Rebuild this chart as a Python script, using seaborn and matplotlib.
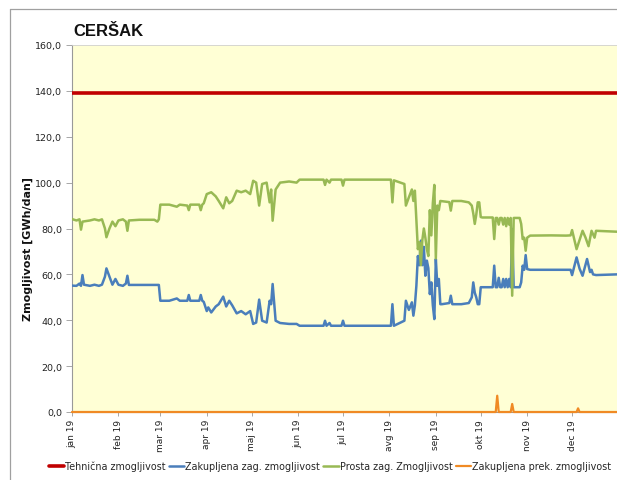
import numpy as np
import pandas as pd
import matplotlib
matplotlib.use("Agg")
import matplotlib.pyplot as plt
import matplotlib.dates as mdates
from matplotlib.ticker import MultipleLocator, FuncFormatter
from matplotlib.lines import Line2D
import seaborn as sns

# ---------------- data (day offset from 1 Jan 2019, value GWh/dan) ----------------
title = "CERŠAK"
ylabel = "Zmogljivost [GWh/dan]"
month_labels = ["jan 19", "feb 19", "mar 19", "apr 19", "maj 19", "jun 19",
                "jul 19", "avg 19", "sep 19", "okt 19", "nov 19", "dec 19"]
series_names = ["Tehnična zmogljivost", "Zakupljena zag. zmogljivost",
                "Prosta zag. Zmogljivost", "Zakupljena prek. zmogljivost"]

tech_days = [0, 364]
tech_vals = [139.0, 139.0]

blue_days = [0, 3, 5, 6, 7, 8, 12, 15, 18, 20, 22, 23, 25, 27, 29, 31, 34, 36, 37, 38,
             58, 59, 65, 70, 72, 77, 78, 79, 85, 86, 87, 88, 90, 91, 93, 96, 98, 101,
             103, 105, 107, 110, 113, 116, 119, 121, 123, 125, 127, 130, 132, 133, 134,
             136, 139, 145, 150, 152, 168, 169, 170, 172, 173, 180, 181, 182, 213, 214,
             215, 222, 223, 225, 227, 228, 229, 230, 231, 232, 233, 234, 235, 236, 237,
             238, 239, 240, 241, 242, 243, 244, 245, 246, 247, 252, 253, 254, 260, 265,
             267, 268, 269, 270, 271, 272, 273, 281, 282, 283, 284, 285, 286, 287, 288,
             289, 290, 291, 292, 293, 294, 295, 299, 300, 301, 302, 303, 304, 306, 333,
             334, 337, 339, 341, 344, 346, 347, 348, 350, 364]
blue_vals = [55.1, 55.0, 56.0, 55.0, 59.7, 55.5, 55.0, 55.5, 55.0, 55.5, 59.0, 62.6, 59.0,
             55.5, 58.0, 55.5, 55.0, 56.0, 59.4, 55.4,
             55.4, 48.5, 48.5, 49.5, 48.5, 48.5, 51.0, 48.5, 48.5, 51.0, 48.5, 48.0, 44.0,
             45.6, 43.4, 46.0, 47.0, 50.3,
             46.0, 48.5, 46.5, 43.0, 44.0, 42.6, 44.0, 38.4, 39.0, 49.0, 39.8, 39.0, 48.5,
             47.0, 55.8,
             39.8, 38.8, 38.4, 38.4, 37.6, 37.6, 39.8, 37.6, 38.8, 37.6, 37.6, 39.8, 37.6,
             37.6, 47.0,
             37.6, 39.8, 48.5, 44.5, 47.8, 42.0, 46.5, 55.0, 68.0, 64.0, 74.7, 64.0, 72.0,
             59.4, 66.0,
             62.7, 51.4, 56.5, 46.5, 40.5, 66.7, 55.0, 58.0, 47.0, 47.0, 47.5, 50.7, 47.0,
             47.0, 47.5,
             50.0, 56.5, 52.0, 50.0, 47.0, 47.0, 54.4, 54.4, 63.8, 54.4, 54.4, 58.5, 54.4,
             54.4, 58.0,
             54.4, 58.0, 54.4, 58.0, 54.4, 79.8, 54.4, 54.4, 56.5, 63.8, 62.0, 68.4, 62.3,
             62.0, 62.0,
             59.7, 67.4, 62.5, 59.4, 66.7, 61.0, 62.0, 60.0, 59.7, 60.0]

green_days = [0, 3, 5, 6, 7, 12, 15, 18, 20, 22, 23, 25, 27, 29, 31, 34, 36, 37, 38, 45,
              55, 57, 58, 59, 65, 70, 72, 77, 78, 79, 85, 86, 87, 88, 90, 93, 96, 98,
              101, 103, 105, 107, 110, 113, 116, 119, 121, 123, 125, 127, 130, 132, 133,
              134, 136, 139, 145, 150, 152, 168, 169, 170, 172, 173, 180, 181, 182, 213,
              214, 215, 222, 223, 225, 227, 228, 229, 230, 231, 232, 233, 234, 235, 236,
              237, 238, 239, 240, 241, 242, 243, 244, 245, 246, 252, 253, 254, 260, 265,
              267, 268, 269, 270, 271, 272, 273, 274, 281, 282, 283, 284, 285, 286, 287,
              288, 289, 290, 291, 292, 293, 294, 295, 299, 300, 301, 302, 303, 304, 306,
              320, 330, 333, 334, 337, 339, 341, 343, 345, 347, 349, 350, 364]
green_vals = [84.1, 83.5, 84.0, 79.5, 83.0, 83.5, 84.0, 83.5, 84.0, 80.0, 76.2, 80.0, 83.0,
              81.0, 83.5, 84.0, 83.0, 79.0, 83.5, 83.8,
              83.8, 83.0, 84.0, 90.4, 90.4, 89.5, 90.4, 90.0, 88.0, 90.4, 90.4, 88.0, 90.4,
              91.0, 95.0, 95.8, 94.0, 92.0,
              88.8, 93.6, 91.0, 92.0, 96.5, 95.8, 96.5, 95.0, 100.8, 100.0, 90.0, 99.4,
              100.0, 91.4, 97.0,
              83.4, 97.0, 100.0, 100.5, 100.0, 101.3, 101.3, 99.0, 101.3, 100.0, 101.3,
              101.3, 98.7, 101.3, 101.3,
              91.4, 101.0, 99.4, 90.0, 93.6, 97.0, 92.0, 96.5, 84.0, 71.0, 74.0, 64.0, 75.0,
              80.0, 76.0,
              71.0, 68.0, 88.0, 77.0, 91.0, 99.0, 67.0, 90.0, 88.0, 92.0, 91.5, 87.8, 92.0,
              92.0, 91.4,
              90.0, 86.6, 82.0, 86.0, 91.4, 91.4, 85.0, 84.8, 84.8, 75.4, 84.6, 84.6, 81.7,
              84.6, 84.6,
              81.7, 84.6, 81.0, 84.6, 81.7, 84.6, 50.7, 84.6, 84.6, 82.0, 75.4, 76.0, 70.3,
              76.0, 76.9,
              77.0, 76.9, 77.0, 79.3, 71.0, 75.0, 79.0, 76.0, 72.3, 79.0, 76.0, 79.0, 78.6]

orange_days = [0, 283, 284, 285, 293, 294, 295, 337, 338, 339, 364]
orange_vals = [0.0, 0.0, 7.1, 0.0, 0.0, 3.5, 0.0, 0.0, 1.6, 0.0, 0.0]

colors = ["#C00000", "#4A7EBB", "#98B954", "#F08A24"]
widths = [2.6, 1.8, 1.8, 1.6]

start = pd.Timestamp("2019-01-01")


def make_df(days, vals, name):
    return pd.DataFrame({"date": start + pd.to_timedelta(days, unit="D"),
                         "val": vals, "series": name})


df = pd.concat([make_df(tech_days, tech_vals, series_names[0]),
                make_df(blue_days, blue_vals, series_names[1]),
                make_df(green_days, green_vals, series_names[2]),
                make_df(orange_days, orange_vals, series_names[3])],
               ignore_index=True)

# ---------------- figure ----------------
sns.set_style("white")
plt.rcParams["font.family"] = ["DejaVu Sans"]

W, H = 617, 481
fig = plt.figure(figsize=(W / 100, H / 100), dpi=100)
ax = fig.add_axes([72 / W, 1 - 413 / H, (617 - 72) / W, (413 - 46) / H])
ax.set_facecolor("#FFFFD5")

for name, c, lw in zip(series_names, colors, widths):
    sub = df[df["series"] == name]
    sns.lineplot(data=sub, x="date", y="val", ax=ax, color=c, linewidth=lw,
                 estimator=None, sort=True, label=name, legend=False, zorder=3)
# let the zero-level orange line sit on top of the axis line, as in the original
ax.lines[-1].set_clip_on(False)
ax.lines[-1].set_zorder(4)

ax.set_xlim(start, start + pd.Timedelta(days=364))
ax.set_ylim(0, 160)

ax.yaxis.set_major_locator(MultipleLocator(20))
ax.yaxis.set_minor_locator(MultipleLocator(40))
ax.yaxis.set_major_formatter(FuncFormatter(lambda v, p: f"{v:.1f}".replace(".", ",")))
ax.grid(False)
ax.grid(True, which="minor", axis="y", color="#B8B8B8", linestyle=(0, (1, 1.5)), linewidth=0.8)
ax.tick_params(axis="y", which="minor", length=0)

month_ticks = pd.date_range("2019-01-01", periods=12, freq="MS")
ax.set_xticks(month_ticks)
ax.set_xticklabels(month_labels, rotation=90, fontsize=6.5, color="#222222")
ax.tick_params(axis="x", which="major", direction="out", length=3, width=0.6,
               color="#999999", pad=2, bottom=True)
ax.tick_params(axis="y", which="major", direction="out", length=4, width=0.6,
               color="#999999", pad=3, labelsize=6.8, labelcolor="#222222", left=True)

for s in ["left", "bottom"]:
    ax.spines[s].set_color("#999999")
    ax.spines[s].set_linewidth(0.8)
for s in ["top", "right"]:
    ax.spines[s].set_color("#D0D0D0")
    ax.spines[s].set_linewidth(0.6)

ax.set_xlabel("")
ax.set_ylabel("")
fig.text(28 / W, 1 - 249 / H, ylabel, rotation=90, ha="center", va="center",
         fontsize=8, fontweight="bold", color="#111111")
fig.text(73 / W, 1 - 31 / H, title, ha="left", va="center", fontsize=12,
         fontweight="bold", color="#111111", family=["Liberation Sans", "DejaVu Sans"])

# outer chart border
fig.add_artist(Line2D([10 / W, 10 / W], [0, 1 - 10 / H], transform=fig.transFigure,
                      color="#A0A0A0", linewidth=0.9))
fig.add_artist(Line2D([10 / W, 1], [1 - 10 / H, 1 - 10 / H], transform=fig.transFigure,
                      color="#A0A0A0", linewidth=0.9))

handles, labels = ax.get_legend_handles_labels()
fig.legend(handles, labels, loc="center", bbox_to_anchor=(330 / W, 1 - 467 / H), ncol=4,
           frameon=False, fontsize=6.9, handlelength=1.6, handletextpad=0.12,
           columnspacing=0.35, borderaxespad=0)

fig.savefig("out.png", dpi=100)
